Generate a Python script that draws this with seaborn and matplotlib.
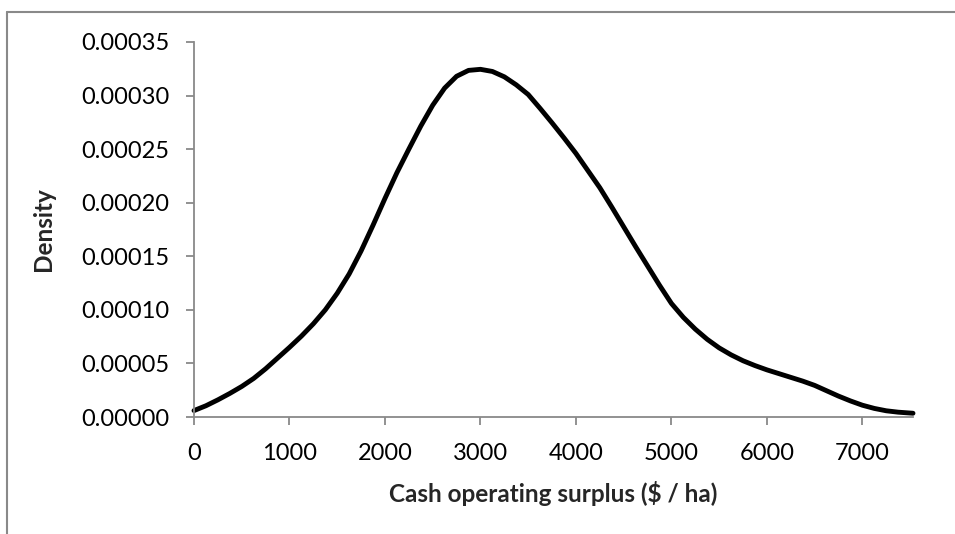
import matplotlib
matplotlib.use("Agg")
import matplotlib.pyplot as plt
from matplotlib.lines import Line2D
import numpy as np
import pandas as pd
import seaborn as sns

surplus = [0, 125, 250, 375, 500, 625, 750, 875, 1000, 1125, 1250, 1375,
           1500, 1625, 1750, 1875, 2000, 2125, 2250, 2375, 2500, 2625, 2750,
           2875, 3000, 3125, 3250, 3375, 3500, 3625, 3750, 3875, 4000, 4125,
           4250, 4375, 4500, 4625, 4750, 4875, 5000, 5125, 5250, 5375, 5500,
           5625, 5750, 5875, 6000, 6125, 6250, 6375, 6500, 6625, 6750, 6875,
           7000, 7125, 7250, 7375, 7530]
density = [6.0e-6, 1.05e-5, 1.6e-5, 2.2e-5, 2.85e-5, 3.6e-5, 4.5e-5, 5.5e-5,
           6.5e-5, 7.55e-5, 8.7e-5, 1.0e-4, 1.155e-4, 1.335e-4, 1.55e-4,
           1.79e-4, 2.04e-4, 2.28e-4, 2.50e-4, 2.715e-4, 2.91e-4, 3.07e-4,
           3.18e-4, 3.235e-4, 3.245e-4, 3.225e-4, 3.175e-4, 3.10e-4, 3.01e-4,
           2.88e-4, 2.745e-4, 2.605e-4, 2.46e-4, 2.30e-4, 2.14e-4, 1.96e-4,
           1.775e-4, 1.59e-4, 1.41e-4, 1.23e-4, 1.06e-4, 9.3e-5, 8.2e-5,
           7.25e-5, 6.45e-5, 5.8e-5, 5.25e-5, 4.8e-5, 4.4e-5, 4.05e-5, 3.7e-5,
           3.35e-5, 2.95e-5, 2.45e-5, 1.95e-5, 1.5e-5, 1.1e-5, 8.0e-6, 5.8e-6,
           4.5e-6, 3.5e-6]

x_ticks = [0, 1000, 2000, 3000, 4000, 5000, 6000, 7000]
y_ticks = [0.0, 0.00005, 0.00010, 0.00015, 0.00020, 0.00025, 0.00030, 0.00035]

df = pd.DataFrame({"surplus": surplus, "density": density})

sns.set_theme(style="white")
plt.rcParams["font.family"] = ["Lato", "DejaVu Sans"]

gris = "#898989"

fig = plt.figure(figsize=(9.55, 5.34), dpi=100)
ax = fig.add_axes([194 / 955, 117 / 534, 719 / 955, 375 / 534])

sns.lineplot(data=df, x="surplus", y="density", color="black", linewidth=3.5,
             ax=ax, solid_capstyle="round", solid_joinstyle="round",
             clip_on=False)

ax.set_xlim(0, 7530)
ax.set_ylim(0, 0.00035)
ax.set_xticks(x_ticks)
ax.set_yticks(y_ticks)
ax.set_yticklabels([f"{v:.5f}" for v in y_ticks])

for s in ["top", "right"]:
    ax.spines[s].set_visible(False)
for s in ["left", "bottom"]:
    ax.spines[s].set_color(gris)
    ax.spines[s].set_linewidth(1.3)

ax.tick_params(axis="both", direction="out", length=6, width=1.3, color=gris,
               labelsize=17, labelcolor="black", bottom=True, left=True)
ax.tick_params(axis="y", pad=12)
ax.tick_params(axis="x", pad=12.5)

ax.set_xlabel("Cash operating surplus ($ / ha)", fontsize=17.5, fontweight="bold")
ax.set_ylabel("Density", fontsize=17.5, fontweight="bold")
ax.xaxis.set_label_coords(0.5, -0.17)
ax.yaxis.set_label_coords(-0.193, 0.5)

# borde del grafico (recortado a la derecha y abajo)
fig.add_artist(Line2D([7 / 955, 1.0], [1 - 12 / 534, 1 - 12 / 534],
                      color=gris, linewidth=1.5, transform=fig.transFigure))
fig.add_artist(Line2D([7 / 955, 7 / 955], [0.0, 1 - 12 / 534],
                      color=gris, linewidth=1.5, transform=fig.transFigure))

fig.savefig("out.png", dpi=100)
